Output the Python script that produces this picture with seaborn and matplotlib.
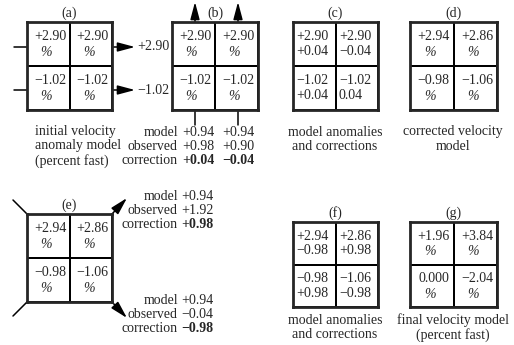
import numpy as np
import matplotlib
matplotlib.use("Agg")
import matplotlib.pyplot as plt
import seaborn as sns

sns.set_style("white")
plt.rcParams["font.family"] = ["Liberation Serif", "DejaVu Serif"]
plt.rcParams["font.size"] = 10

# cell values, read row by row (top-left, top-right, bottom-left, bottom-right)
initial = ["+2.90", "+2.90", "\u22121.02", "\u22121.02"]
corr_1 = ["+0.04", "\u22120.04", "+0.04", "0.04"]
corrected = ["+2.94", "+2.86", "\u22120.98", "\u22121.06"]
corr_2 = ["\u22120.98", "+0.98", "+0.98", "\u22120.98"]
final = ["+1.96", "+3.84", "0.000", "\u22122.04"]

row_sums = ["+2.90", "\u22121.02"]
b_model = ["+0.94", "+0.94"]
b_obs = ["+0.98", "+0.90"]
b_corr = ["+0.04", "\u22120.04"]
e_model = ["+0.94", "+0.94"]
e_obs = ["+1.92", "\u22120.04"]
e_corr = ["+0.98", "\u22120.98"]

W, H = 514, 345
fig = plt.figure(figsize=(W / 100, H / 100), dpi=100)
bg = fig.add_axes([0, 0, 1, 1])
bg.set_xlim(0, W)
bg.set_ylim(H, 0)
bg.axis("off")


def panel(box, label, top, bottom=None):
    x0, y0, x1, y1 = box
    ax = fig.add_axes([x0 / W, 1 - y1 / H, (x1 - x0) / W, (y1 - y0) / H])
    sns.heatmap(np.zeros((2, 2)), ax=ax, cmap=["white"], cbar=False,
                linewidths=1.4, linecolor="black", xticklabels=False, yticklabels=False)
    for s in ax.spines.values():
        s.set_visible(True)
        s.set_linewidth(2)
    for k in range(4):
        i, j = divmod(k, 2)
        if bottom is None:
            ax.text(j + 0.54, i + 0.33, top[k], ha="center", va="center")
            ax.text(j + 0.45, i + 0.7, "%", ha="center", va="center", style="italic")
        else:
            ax.text(j + 0.08, i + 0.33, top[k], ha="left", va="center")
            ax.text(j + 0.08, i + 0.68, bottom[k], ha="left", va="center")
    bg.text((x0 + x1) / 2, y0 - 9, label, ha="center", va="center")
    return ax


arw = dict(arrowstyle="-|>,head_length=0.75,head_width=0.2", lw=1.1, color="black",
           mutation_scale=14, shrinkA=0, shrinkB=0)

# top row
panel((27, 22, 112, 110), "(a)", initial)
panel((172, 22, 258, 110), "(b)", initial)
panel((293, 22, 378, 110), "(c)", initial, corr_1)
panel((410, 22, 497, 110), "(d)", corrected)

for y, s in zip([47, 90], row_sums):
    bg.plot([14, 27], [y, y], color="black", lw=1.1)
    bg.annotate("", xy=(135, y), xytext=(112, y), arrowprops=arw)
    bg.text(137, y, s, ha="left", va="center")

for x in [195, 238]:
    bg.annotate("", xy=(x, 2), xytext=(x, 22), arrowprops=arw)
    bg.plot([x, x], [110, 125], color="black", lw=1.1)

for y, s in zip([132, 146, 161], ["initial velocity", "anomaly model", "(percent fast)"]):
    bg.text(35, y, s, ha="left", va="center")
for y, lab, vals, bold in zip([132, 146, 161], ["model", "observed", "correction"],
                              [b_model, b_obs, b_corr], [False, False, True]):
    bg.text(178, y, lab, ha="right", va="center")
    for x, v in zip([182, 222], vals):
        bg.text(x, y, v, ha="left", va="center", weight="bold" if bold else "normal")

bg.text(335, 132, "model anomalies", ha="center", va="center")
bg.text(335, 146, "and corrections", ha="center", va="center")
bg.text(453, 132, "corrected velocity", ha="center", va="center")
bg.text(453, 146, "model", ha="center", va="center")

# bottom row
panel((27, 214, 112, 302), "(e)", corrected)
panel((293, 222, 378, 307), "(f)", corrected, corr_2)
panel((410, 222, 497, 307), "(g)", final)

bg.plot([13, 27], [200, 214], color="black", lw=1.1)
bg.plot([13, 27], [316, 302], color="black", lw=1.1)
bg.annotate("", xy=(127, 198), xytext=(112, 214), arrowprops=arw)
bg.annotate("", xy=(127, 318), xytext=(112, 302), arrowprops=arw)

for y0, vals in zip([196, 300], [(e_model[0], e_obs[0], e_corr[0]), (e_model[1], e_obs[1], e_corr[1])]):
    for k, lab in enumerate(["model", "observed", "correction"]):
        y = y0 + 14.5 * k
        bg.text(178, y, lab, ha="right", va="center")
        bg.text(181, y, vals[k], ha="left", va="center", weight="bold" if k == 2 else "normal")

bg.text(335, 320, "model anomalies", ha="center", va="center")
bg.text(335, 335, "and corrections", ha="center", va="center")
bg.text(453, 320, "final velocity model", ha="center", va="center")
bg.text(453, 335, "(percent fast)", ha="center", va="center")

fig.savefig("out.png", dpi=100)
